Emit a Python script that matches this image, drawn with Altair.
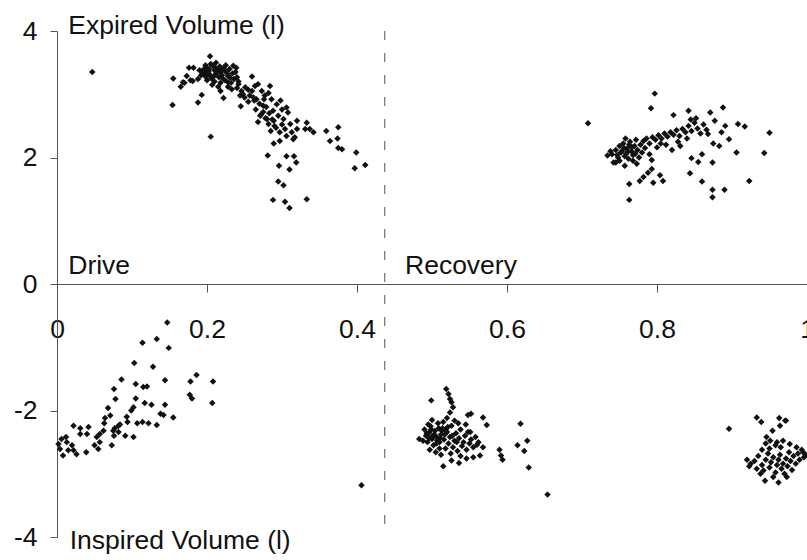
import altair as alt
import pandas as pd

# Expired volume against cycle fraction (upper half)
exp_x = [
    0.047, 0.155, 0.154, 0.168, 0.173, 0.176, 0.182, 0.181, 0.188, 0.193, 0.205, 0.204,
    0.218, 0.222, 0.228, 0.235, 0.239, 0.233, 0.242, 0.244, 0.245, 0.246, 0.251, 0.255,
    0.260, 0.257, 0.264, 0.266, 0.265, 0.268, 0.273, 0.271, 0.275, 0.277, 0.280, 0.282,
    0.284, 0.286, 0.288, 0.289, 0.293, 0.295, 0.298, 0.300, 0.302, 0.304, 0.306, 0.308,
    0.311, 0.306, 0.313, 0.315, 0.320, 0.320, 0.317, 0.333, 0.331, 0.337, 0.342, 0.359,
    0.364, 0.375, 0.374, 0.375, 0.380, 0.399, 0.397, 0.411, 0.289, 0.297, 0.281, 0.296,
    0.306, 0.316, 0.319, 0.310, 0.295, 0.302, 0.288, 0.304, 0.310, 0.333,
    0.190, 0.195, 0.198, 0.200, 0.202, 0.204, 0.206, 0.208, 0.210, 0.212, 0.214, 0.216,
    0.218, 0.220, 0.222, 0.224, 0.226, 0.228, 0.230, 0.232, 0.234, 0.236, 0.200, 0.205,
    0.210, 0.215, 0.212, 0.225, 0.238, 0.240, 0.196, 0.192, 0.218, 0.228, 0.242, 0.207,
    0.198, 0.188, 0.220, 0.203, 0.170, 0.165, 0.178,
    0.194, 0.199, 0.203, 0.209, 0.213, 0.217, 0.221, 0.227, 0.231, 0.201, 0.211, 0.223,
    0.250, 0.255, 0.262, 0.270, 0.275, 0.278, 0.283, 0.268, 0.290, 0.292, 0.285, 0.297,
    0.300, 0.276, 0.282, 0.260, 0.248, 0.240, 0.272, 0.287, 0.279, 0.263,
    0.708, 0.797, 0.792, 0.822, 0.842, 0.871, 0.888, 0.908, 0.917, 0.950, 0.943, 0.906,
    0.923, 0.890, 0.874, 0.874, 0.860, 0.874, 0.860, 0.844, 0.846, 0.855, 0.896, 0.883,
    0.875, 0.886, 0.891, 0.877, 0.868, 0.820, 0.831, 0.808, 0.795, 0.804, 0.763, 0.763,
    0.777, 0.782, 0.788, 0.793, 0.734, 0.742, 0.757, 0.773, 0.793,
    0.740, 0.745, 0.748, 0.750, 0.752, 0.755, 0.757, 0.760, 0.762, 0.764, 0.766, 0.768,
    0.770, 0.772, 0.774, 0.776, 0.778, 0.780, 0.782, 0.784, 0.786, 0.790, 0.794, 0.798,
    0.802, 0.806, 0.810, 0.814, 0.818, 0.822, 0.826, 0.830, 0.834, 0.838, 0.842, 0.846,
    0.850, 0.854, 0.858, 0.862, 0.866, 0.845, 0.852, 0.840, 0.828, 0.812, 0.800, 0.750,
    0.745, 0.738, 0.758, 0.768, 0.790, 0.805,
    0.753, 0.759, 0.763, 0.767, 0.771, 0.747, 0.756, 0.761,
]
exp_y = [
    3.35, 3.25, 2.83, 3.19, 3.29, 3.42, 3.42, 3.21, 2.87, 2.99, 2.33, 3.60,
    3.05, 2.94, 3.19, 3.45, 3.42, 3.08, 3.16, 2.98, 2.81, 3.05, 3.11, 3.07,
    3.28, 2.98, 3.13, 2.92, 2.76, 3.16, 3.05, 2.66, 2.82, 2.98, 2.61, 2.53,
    3.13, 2.92, 2.74, 2.58, 2.84, 2.66, 2.90, 2.76, 2.61, 2.45, 2.79, 2.71,
    2.53, 2.34, 2.40, 2.29, 2.58, 2.45, 2.32, 2.55, 2.45, 2.45, 2.40, 2.42,
    2.26, 2.48, 2.30, 2.15, 2.13, 2.08, 1.83, 1.88, 2.22, 2.26, 2.03, 1.87,
    2.02, 2.02, 1.92, 1.81, 1.62, 1.56, 1.33, 1.30, 1.20, 1.34,
    3.38, 3.33, 3.28, 3.42, 3.36, 3.30, 3.25, 3.45, 3.38, 3.32, 3.40, 3.27,
    3.35, 3.30, 3.42, 3.22, 3.36, 3.29, 3.40, 3.18, 3.33, 3.24, 3.22, 3.48,
    3.20, 3.12, 3.50, 3.46, 3.35, 3.27, 3.40, 3.30, 3.18, 3.12, 3.20, 3.15,
    3.46, 3.24, 3.38, 3.40, 3.18, 3.12, 3.22,
    3.34, 3.36, 3.32, 3.28, 3.35, 3.44, 3.25, 3.33, 3.26, 3.30, 3.42, 3.38,
    2.95, 2.88, 2.95, 2.85, 2.72, 2.62, 2.70, 2.56, 2.50, 2.47, 2.42, 2.40,
    2.52, 2.92, 3.02, 3.05, 3.00, 3.10, 2.68, 2.60, 2.80, 2.90,
    2.54, 3.01, 2.78, 2.67, 2.74, 2.71, 2.79, 2.53, 2.49, 2.39, 2.07, 2.08,
    1.63, 1.49, 1.49, 1.37, 1.62, 1.92, 2.05, 1.75, 1.99, 1.93, 2.29, 2.18,
    2.22, 2.40, 2.50, 2.58, 2.37, 2.12, 2.18, 1.63, 1.60, 1.72, 1.58, 1.33,
    1.63, 1.69, 1.76, 1.82, 2.03, 1.92, 1.87, 1.90, 1.96,
    2.05, 2.12, 2.00, 2.18, 2.08, 2.22, 2.02, 2.14, 1.98, 2.25, 2.10, 2.04,
    2.18, 2.28, 2.12, 2.00, 2.20, 2.08, 2.26, 2.15, 2.30, 2.22, 2.32, 2.28,
    2.35, 2.30, 2.38, 2.33, 2.40, 2.36, 2.43, 2.34, 2.45, 2.40, 2.50, 2.42,
    2.55, 2.46, 2.38, 2.52, 2.44, 2.60, 2.62, 2.30, 2.25, 2.20, 2.16, 1.95,
    1.92, 2.10, 2.30, 1.95, 2.05, 2.22,
    2.10, 2.06, 2.20, 2.16, 2.06, 2.04, 2.15, 2.09,
]

# Inspired volume against cycle fraction (lower half)
insp_x = [
    0.147, 0.133, 0.114, 0.149, 0.103, 0.128, 0.144, 0.086, 0.105, 0.115, 0.120, 0.186,
    0.178, 0.208, 0.177, 0.180, 0.207, 0.076, 0.078, 0.105, 0.117, 0.126, 0.144, 0.102,
    0.099, 0.068, 0.064, 0.063, 0.084, 0.093, 0.094, 0.107, 0.114, 0.122, 0.133, 0.138,
    0.142, 0.155, 0.075, 0.076, 0.082, 0.073, 0.062, 0.057, 0.053, 0.050, 0.055, 0.040,
    0.042, 0.031, 0.031, 0.022, 0.039, 0.026, 0.022, 0.020, 0.013, 0.008, 0.004, 0.002,
    0.006, 0.012, 0.015, 0.091, 0.102, 0.057, 0.071, 0.082, 0.077, 0.406,
    0.519, 0.522, 0.526, 0.524, 0.528, 0.499, 0.524, 0.548, 0.552, 0.568, 0.573, 0.618,
    0.614, 0.627, 0.623, 0.629, 0.590, 0.592, 0.594, 0.654, 0.483, 0.515, 0.536, 0.526,
    0.546, 0.555, 0.564, 0.562, 0.568, 0.551,
    0.490, 0.492, 0.494, 0.496, 0.498, 0.500, 0.502, 0.504, 0.506, 0.508, 0.510, 0.512,
    0.514, 0.516, 0.518, 0.520, 0.522, 0.524, 0.526, 0.528, 0.530, 0.532, 0.534, 0.536,
    0.538, 0.540, 0.542, 0.544, 0.546, 0.548, 0.550, 0.552, 0.555, 0.558, 0.560, 0.497,
    0.505, 0.512, 0.500, 0.515, 0.520, 0.530, 0.488, 0.495, 0.510, 0.525, 0.538, 0.545,
    0.535, 0.503, 0.518, 0.507,
    0.493, 0.499, 0.501, 0.509, 0.511, 0.513, 0.517, 0.521, 0.527, 0.533, 0.496, 0.506,
    0.896, 0.933, 0.939, 0.963, 0.972, 0.964, 0.954, 0.946, 0.951, 0.960, 0.968, 0.977,
    0.986, 0.995, 0.923, 0.933, 0.944, 0.962, 0.973, 0.971,
    0.930, 0.935, 0.940, 0.942, 0.945, 0.948, 0.950, 0.952, 0.955, 0.958, 0.960, 0.962,
    0.964, 0.966, 0.968, 0.970, 0.972, 0.974, 0.976, 0.978, 0.980, 0.982, 0.985, 0.988,
    0.990, 0.993, 0.996, 0.998, 0.938, 0.955, 0.925, 0.920, 0.950, 0.958, 0.965, 0.945,
    0.940,
]
insp_y = [
    -0.61, -0.87, -0.93, -1.01, -1.25, -1.31, -1.52, -1.51, -1.58, -1.63, -1.62, -1.44,
    -1.54, -1.54, -1.75, -1.81, -1.88, -1.66, -1.82, -1.81, -1.88, -1.91, -1.91, -1.95,
    -2.00, -1.96, -2.12, -2.20, -2.22, -2.10, -2.18, -2.20, -2.18, -2.20, -2.23, -2.05,
    -2.07, -2.11, -2.32, -2.40, -2.34, -2.55, -2.32, -2.37, -2.42, -2.55, -2.61, -2.37,
    -2.26, -2.28, -2.37, -2.24, -2.66, -2.69, -2.63, -2.55, -2.50, -2.71, -2.61, -2.53,
    -2.45, -2.42, -2.63, -2.40, -2.42, -2.50, -2.08, -2.24, -2.28, -3.18,
    -1.66, -1.74, -1.87, -1.82, -1.95, -1.84, -2.03, -2.07, -2.05, -2.11, -2.23, -2.21,
    -2.55, -2.48, -2.64, -2.90, -2.62, -2.71, -2.78, -3.33, -2.45, -2.88, -2.83, -2.79,
    -2.76, -2.74, -2.71, -2.50, -2.58, -2.34,
    -2.30, -2.40, -2.50, -2.35, -2.25, -2.45, -2.55, -2.32, -2.42, -2.20, -2.50, -2.38,
    -2.28, -2.46, -2.60, -2.34, -2.52, -2.42, -2.24, -2.58, -2.48, -2.36, -2.64, -2.44,
    -2.30, -2.56, -2.50, -2.40, -2.62, -2.34, -2.52, -2.46, -2.58, -2.42, -2.54, -2.62,
    -2.66, -2.70, -2.15, -2.18, -2.12, -2.16, -2.48, -2.22, -2.60, -2.68, -2.72, -2.22,
    -2.20, -2.38, -2.30, -2.48,
    -2.36, -2.30, -2.40, -2.28, -2.44, -2.32, -2.38, -2.26, -2.40, -2.50, -2.44, -2.52,
    -2.29, -2.11, -2.18, -2.12, -2.16, -2.24, -2.32, -2.42, -2.48, -2.50, -2.48, -2.53,
    -2.58, -2.66, -2.88, -2.92, -3.11, -3.14, -3.05, -2.16,
    -2.80, -2.72, -2.86, -2.95, -2.78, -2.68, -2.90, -2.82, -2.74, -2.98, -2.86, -2.78,
    -2.70, -2.92, -2.84, -3.00, -2.76, -2.88, -2.66, -2.80, -2.94, -2.72, -2.84, -2.68,
    -2.78, -2.62, -2.74, -2.70, -3.00, -3.05, -2.84, -2.78, -2.60, -2.55, -2.58, -2.52,
    -2.62,
]

x_ticks = [0, 0.2, 0.4, 0.6, 0.8, 1]
y_ticks = [-4, -2, 0, 2, 4]
phase_boundary = 0.437

FONT = "Liberation Sans"
INK = "#111111"
AXIS_GREY = "#555555"
FS = 26.5

points = pd.DataFrame({
    "fraction": exp_x + insp_x,
    "volume": exp_y + insp_y,
})

W, H = 750, 506

x_scale = alt.Scale(domain=[0, 1], nice=False, zero=False)
y_scale = alt.Scale(domain=[-4, 4], nice=False, zero=False)

# The horizontal axis sits on volume = 0, halfway down the plot
x_axis = alt.Axis(
    values=x_ticks, format=".1~f", title=None, grid=False,
    orient="bottom", offset=-H / 2,
    domainColor=AXIS_GREY, tickColor=AXIS_GREY, tickSize=8,
    labelFont=FONT, labelFontSize=FS, labelColor=INK,
    labelPadding=24, labelFlush=False, labelOverlap=False,
)
# Plain hyphen for negative tick labels
y_axis = alt.Axis(
    values=y_ticks, title=None, grid=False, orient="left",
    labelExpr="datum.value + ''",
    domainColor=AXIS_GREY, tickColor=AXIS_GREY, tickSize=7,
    labelFont=FONT, labelFontSize=FS, labelColor=INK,
    labelPadding=13, labelFlush=False, labelOverlap=False,
)

scatter = alt.Chart(points).mark_point(
    shape="diamond", filled=True, size=42, color=INK, opacity=1
).encode(
    x=alt.X("fraction:Q", scale=x_scale, axis=x_axis),
    y=alt.Y("volume:Q", scale=y_scale, axis=y_axis),
)

divider = alt.Chart(pd.DataFrame({"x": [phase_boundary]})).mark_rule(
    color=AXIS_GREY, strokeWidth=1, strokeDash=[9, 13]
).encode(
    x=alt.X("x:Q", scale=x_scale, axis=x_axis),
    y=alt.Y(datum=4, type="quantitative", scale=y_scale, axis=y_axis),
    y2=alt.Y2(datum=-4),
)


def label(text, x, y):
    return alt.Chart(pd.DataFrame({"t": [text]})).mark_text(
        align="left", baseline="alphabetic", font=FONT, fontSize=FS, color=INK
    ).encode(
        x=alt.X(datum=x, type="quantitative", scale=x_scale, axis=x_axis),
        y=alt.Y(datum=y, type="quantitative", scale=y_scale, axis=y_axis),
        text="t:N",
    )


chart = alt.layer(
    scatter,
    divider,
    label("Expired Volume (l)", 0.015, 3.95),
    label("Drive", 0.015, 0.16),
    label("Recovery", 0.464, 0.16),
    label("Inspired Volume (l)", 0.017, -4.19),
).properties(
    width=W,
    height=H,
    padding={"left": 57, "top": 31, "right": 0, "bottom": 23},
    autosize=alt.AutoSizeParams(type="none"),
    background="white",
).configure_view(stroke=None)

chart.save("out.html", embed_options={"renderer": "svg", "actions": False})
